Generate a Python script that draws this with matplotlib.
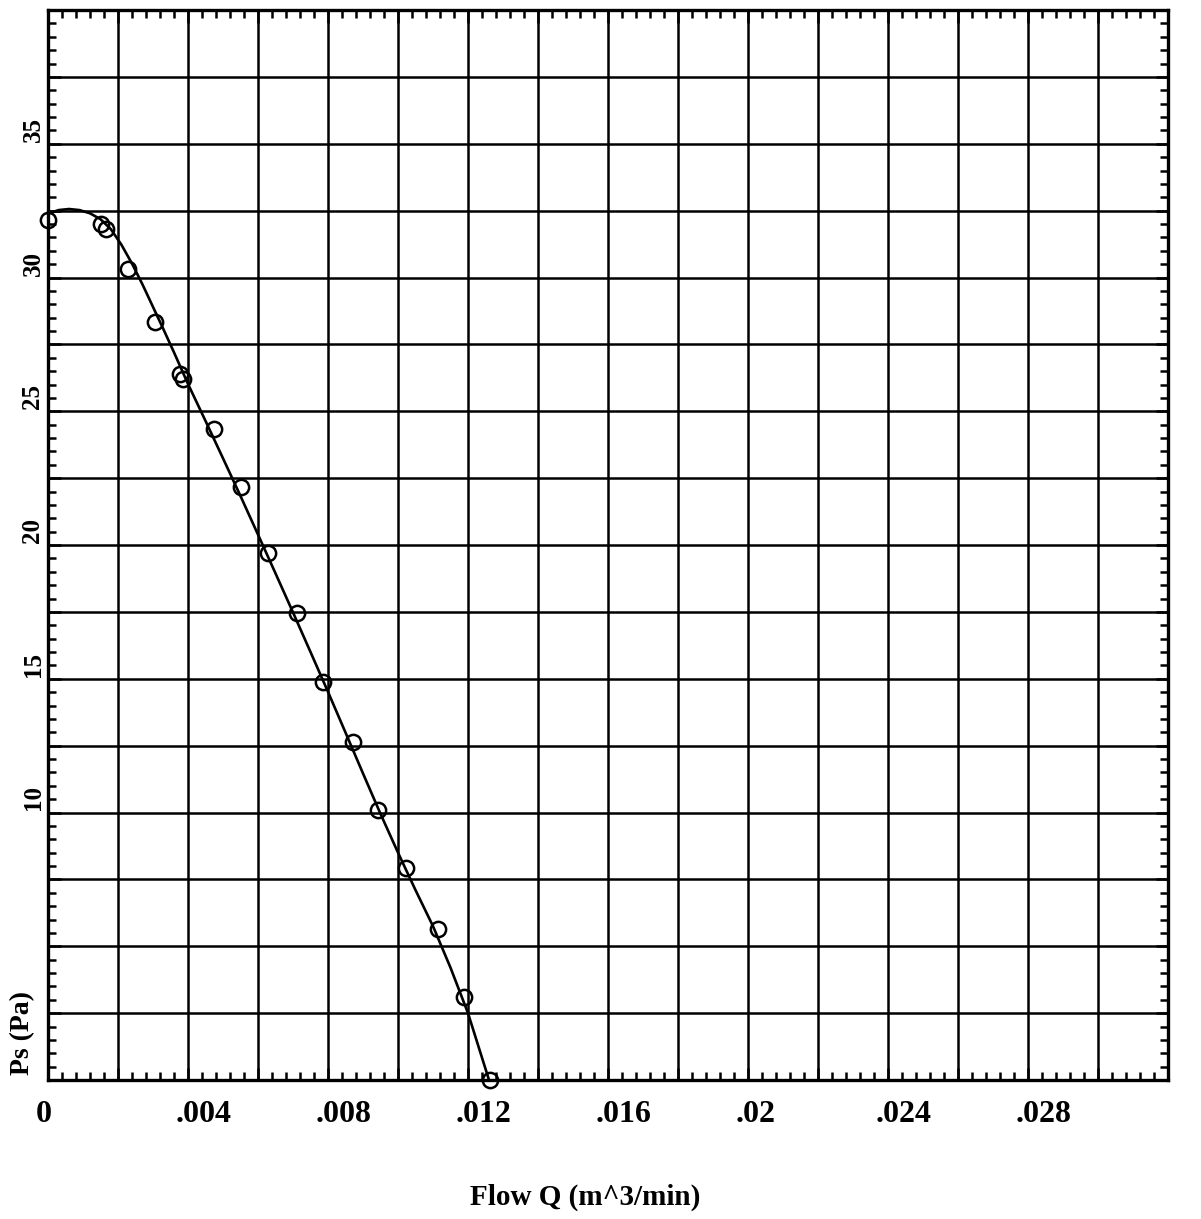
import matplotlib
matplotlib.use('Agg')
import matplotlib.pyplot as plt
from matplotlib.ticker import MultipleLocator, NullFormatter
from matplotlib.transforms import offset_copy

flow_q = [0.0000, 0.00152, 0.00165, 0.00229, 0.00305, 0.00376, 0.00386, 0.00473, 0.00552,
          0.00629, 0.00710, 0.00786, 0.00870, 0.00943, 0.01022, 0.01113, 0.01188, 0.01262]
ps = [32.15, 32.00, 31.80, 30.31, 28.35, 26.41, 26.22, 24.34, 22.15,
      19.69, 17.44, 14.88, 12.65, 10.10, 7.94, 5.65, 3.11, 0.0]

# the fitted curve as drawn on the chart
curve_q = [0.0000, 0.0003, 0.0006, 0.0009, 0.0012, 0.0015, 0.0018, 0.0021, 0.0024, 0.0027,
           0.0030, 0.0033, 0.0036, 0.0040, 0.0045, 0.0050, 0.0055, 0.0060, 0.0065, 0.0070,
           0.0075, 0.0080, 0.0085, 0.0090, 0.0095, 0.0100, 0.0105, 0.0110, 0.0115, 0.0120,
           0.0126]
curve_ps = [32.38, 32.52, 32.56, 32.52, 32.40, 32.18, 31.80, 31.22, 30.52, 29.74,
            28.90, 28.06, 27.20, 26.02, 24.64, 23.24, 21.83, 20.39, 18.94, 17.48,
            16.00, 14.51, 12.99, 11.46, 9.95, 8.50, 7.10, 5.75, 4.20, 2.50,
            0.00]

x_tick_vals = [0, 0.004, 0.008, 0.012, 0.016, 0.020, 0.024, 0.028]
x_tick_text = ['0', '.004', '.008', '.012', '.016', '.02', '.024', '.028']
y_tick_vals = [10, 15, 20, 25, 30, 35]
y_tick_text = ['10', '15', '20', '25', '30', '35']

font = 'Liberation Serif'

fig = plt.figure(figsize=(12.01, 12.19), dpi=100)
ax = fig.add_axes([48 / 1201, (1219 - 1080) / 1219, 1120 / 1201, 1070 / 1219])

ax.set_xlim(0, 0.032)
ax.set_ylim(0, 40)

# grid every 0.002 / 2.5, small ticks every 0.0004 / 0.5
ax.xaxis.set_major_locator(MultipleLocator(0.002))
ax.xaxis.set_minor_locator(MultipleLocator(0.0004))
ax.yaxis.set_major_locator(MultipleLocator(2.5))
ax.yaxis.set_minor_locator(MultipleLocator(0.5))
ax.xaxis.set_major_formatter(NullFormatter())
ax.yaxis.set_major_formatter(NullFormatter())
ax.grid(True, which='major', color='black', linewidth=1.8)
ax.set_axisbelow(True)

ax.tick_params(which='both', direction='in', top=True, right=True, color='black')
ax.tick_params(which='major', length=9, width=1.8)
ax.tick_params(which='minor', length=6, width=1.8)

for s in ax.spines.values():
    s.set_linewidth(2.4)
    s.set_color('black')

ax.plot(curve_q, curve_ps, color='black', linewidth=1.9, zorder=3, clip_on=False)
ax.plot(flow_q, ps, linestyle='none', marker='o', markersize=11, markerfacecolor='none',
        markeredgecolor='black', markeredgewidth=1.8, zorder=4, clip_on=False)

# tick labels, placed the way the old plotter did it
xtr = offset_copy(ax.get_xaxis_transform(), fig=fig, x=-12, y=-35, units='dots')
for v, t in zip(x_tick_vals, x_tick_text):
    ax.text(v, 0, t, transform=xtr, ha='left', va='center', fontsize=23,
            fontweight='bold', family=font)

ytr = offset_copy(ax.get_yaxis_transform(), fig=fig, x=-15, y=2, units='dots')
for v, t in zip(y_tick_vals, y_tick_text):
    ax.text(0, v, t, transform=ytr, rotation=90, rotation_mode='anchor', ha='left',
            va='center', fontsize=18, fontweight='bold', family=font)

ptr = offset_copy(ax.get_yaxis_transform(), fig=fig, x=-25, y=5, units='dots')
ax.text(0, 0, 'Ps (Pa)', transform=ptr, rotation=90, rotation_mode='anchor', ha='left',
        va='center', fontsize=20, fontweight='bold', family=font)

fig.text(585 / 1201, 1 - 1197 / 1219, 'Flow Q (m^3/min)', ha='center', va='center',
         fontsize=21, fontweight='bold', family=font)

fig.savefig('out.png', dpi=100, facecolor='white')
